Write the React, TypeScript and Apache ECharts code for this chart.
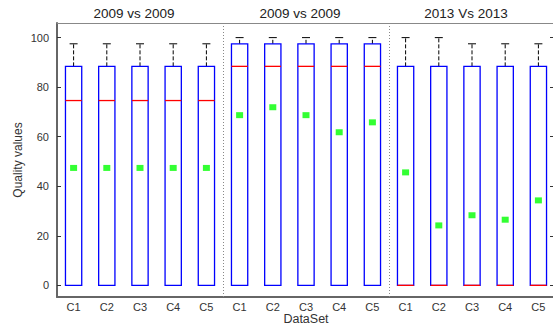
import React, { useEffect, useRef } from "react";
import * as echarts from "echarts";

const categories = ["C1", "C2", "C3", "C4", "C5", "C1", "C2", "C3", "C4", "C5", "C1", "C2", "C3", "C4", "C5"];
const groupTitles = ["2009 vs 2009", "2009 vs 2009", "2013 Vs 2013"];
const whiskerLow = [0, 0, 0, 0, 0, 0, 0, 0, 0, 0, 0, 0, 0, 0, 0];
const q1 = [0, 0, 0, 0, 0, 0, 0, 0, 0, 0, 0, 0, 0, 0, 0];
const medians = [74.6, 74.6, 74.6, 74.6, 74.6, 88.4, 88.4, 88.4, 88.4, 88.4, 0, 0, 0, 0, 0];
const q3 = [88.4, 88.4, 88.4, 88.4, 88.4, 97.5, 97.5, 97.5, 97.5, 97.5, 88.4, 88.4, 88.4, 88.4, 88.4];
const whiskerHigh = [97.5, 97.5, 97.5, 97.5, 97.5, 100, 100, 100, 100, 100, 100, 100, 97.5, 97.5, 97.5];
const means = [47.4, 47.4, 47.4, 47.4, 47.4, 68.7, 71.9, 68.7, 61.8, 65.8, 45.6, 24.2, 28.3, 26.5, 34.3];
const yTicks = [0, 20, 40, 60, 80, 100];
const separators = [4.5, 9.5];

const FONT = "'Liberation Sans', Arial, sans-serif";
const CHART_W = 557;
const CHART_H = 327;

export default function App() {
  const ref = useRef<HTMLDivElement>(null);
  useEffect(() => {
    if (!ref.current) return;
    const chart = echarts.init(ref.current, null, { renderer: "svg" });
    const boxData = categories.map((_, i) => [i, whiskerLow[i], q1[i], medians[i], q3[i], whiskerHigh[i]]);
    const gridLeft = 57;
    const gridRight = 2;
    const plotW = CHART_W - gridLeft - gridRight;
    const step = plotW / categories.length;
    const titleX = groupTitles.map((_, g) => gridLeft + (g * 5 + 2.5) * step - 6);

    const option: any = {
      animation: false,
      backgroundColor: "#ffffff",
      textStyle: { fontFamily: FONT },
      grid: { left: gridLeft, right: gridRight, top: 23, bottom: 30, containLabel: false, outerBoundsMode: "none" },
      graphic: groupTitles.map((t, g) => ({
        type: "text",
        x: titleX[g],
        y: 13.5,
        style: {
          text: t,
          fill: "#222",
          font: `13.5px ${FONT}`,
          textAlign: "center",
          textVerticalAlign: "middle",
        },
      })),
      xAxis: [
        {
          type: "category",
          data: categories,
          position: "bottom",
          boundaryGap: true,
          axisLine: { onZero: false, lineStyle: { color: "#666", width: 2 } },
          axisTick: { inside: true, alignWithLabel: true, length: 4, lineStyle: { color: "#333" } },
          axisLabel: { color: "#333", fontSize: 11, margin: 4, fontFamily: FONT },
          splitLine: { show: false },
          name: "DataSet",
          nameLocation: "middle",
          nameGap: 15,
          nameMoveOverlap: false,
          nameTextStyle: { color: "#333", fontSize: 12.5, fontFamily: FONT },
        },
        {
          type: "category",
          data: categories,
          position: "top",
          boundaryGap: true,
          axisLine: { onZero: false, lineStyle: { color: "#888", width: 1 } },
          axisTick: { inside: true, alignWithLabel: true, length: 4, lineStyle: { color: "#333" } },
          axisLabel: { show: false },
          splitLine: { show: false },
        },
        {
          type: "value",
          min: -0.5,
          max: 14.5,
          show: false,
          axisLine: { onZero: false },
          splitLine: { show: false },
        },
      ],
      yAxis: [
        {
          type: "value",
          min: -4.7,
          max: 105.9,
          position: "left",
          axisLine: { show: true, onZero: false, lineStyle: { color: "#666", width: 2 } },
          axisTick: { show: true, inside: true, length: 4, customValues: yTicks, lineStyle: { color: "#333" } },
          axisLabel: { color: "#333", fontSize: 11, margin: 8, customValues: yTicks, fontFamily: FONT },
          splitLine: { show: false },
          name: "Quality values",
          nameLocation: "middle",
          nameGap: 33,
          nameMoveOverlap: false,
          nameTextStyle: { color: "#333", fontSize: 12, fontFamily: FONT },
        },
        {
          type: "value",
          min: -4.7,
          max: 105.9,
          position: "right",
          axisLine: { show: false, onZero: false },
          axisTick: { show: true, inside: true, length: 5, customValues: yTicks, lineStyle: { color: "#333" } },
          axisLabel: { show: false },
          splitLine: { show: false },
        },
      ],
      series: [
        {
          type: "custom",
          xAxisIndex: 2,
          yAxisIndex: 0,
          data: boxData,
          encode: { x: 0, y: [1, 2, 3, 4, 5] },
          z: 2,
          renderItem: (params: any, api: any) => {
            const x = api.value(0);
            const pMin = api.coord([x, api.value(1)]);
            const pQ1 = api.coord([x, api.value(2)]);
            const pMed = api.coord([x, api.value(3)]);
            const pQ3 = api.coord([x, api.value(4)]);
            const pMax = api.coord([x, api.value(5)]);
            const cx = pMed[0];
            const half = api.coord([x + 0.245, 0])[0] - cx;
            const cap = 4;
            const children: any[] = [];
            if (pMax[1] < pQ3[1]) {
              children.push({
                type: "line",
                shape: { x1: cx, y1: pQ3[1], x2: cx, y2: pMax[1] },
                style: { stroke: "#000", lineWidth: 1, lineDash: [4, 2] },
              });
              children.push({
                type: "line",
                shape: { x1: cx - cap, y1: pMax[1], x2: cx + cap, y2: pMax[1] },
                style: { stroke: "#000", lineWidth: 1 },
              });
            }
            if (pMin[1] > pQ1[1]) {
              children.push({
                type: "line",
                shape: { x1: cx, y1: pQ1[1], x2: cx, y2: pMin[1] },
                style: { stroke: "#000", lineWidth: 1, lineDash: [4, 2] },
              });
              children.push({
                type: "line",
                shape: { x1: cx - cap, y1: pMin[1], x2: cx + cap, y2: pMin[1] },
                style: { stroke: "#000", lineWidth: 1 },
              });
            }
            children.push({
              type: "rect",
              shape: { x: cx - half, y: pQ3[1], width: 2 * half, height: pQ1[1] - pQ3[1] },
              style: { fill: "none", stroke: "#0000ff", lineWidth: 1.3 },
            });
            children.push({
              type: "line",
              shape: { x1: cx - half, y1: pMed[1], x2: cx + half, y2: pMed[1] },
              style: { stroke: "#ff0000", lineWidth: 1.3 },
            });
            return { type: "group", children };
          },
        },
        {
          type: "scatter",
          xAxisIndex: 2,
          yAxisIndex: 0,
          data: [],
          silent: true,
          markLine: {
            silent: true,
            symbol: "none",
            label: { show: false },
            lineStyle: { color: "#888", type: [1, 2], width: 1 },
            data: separators.map((s) => ({ xAxis: s })),
          },
        },
        {
          type: "scatter",
          xAxisIndex: 0,
          yAxisIndex: 0,
          data: means,
          symbol: "rect",
          symbolSize: [7, 6],
          itemStyle: { color: "#00ff00" },
          z: 5,
        },
      ],
    };
    chart.setOption(option);
    return () => chart.dispose();
  }, []);
  return (
    <div
      ref={ref}
      style={{ position: "fixed", left: 0, top: 0, width: CHART_W, height: CHART_H, background: "#fff" }}
    />
  );
}
